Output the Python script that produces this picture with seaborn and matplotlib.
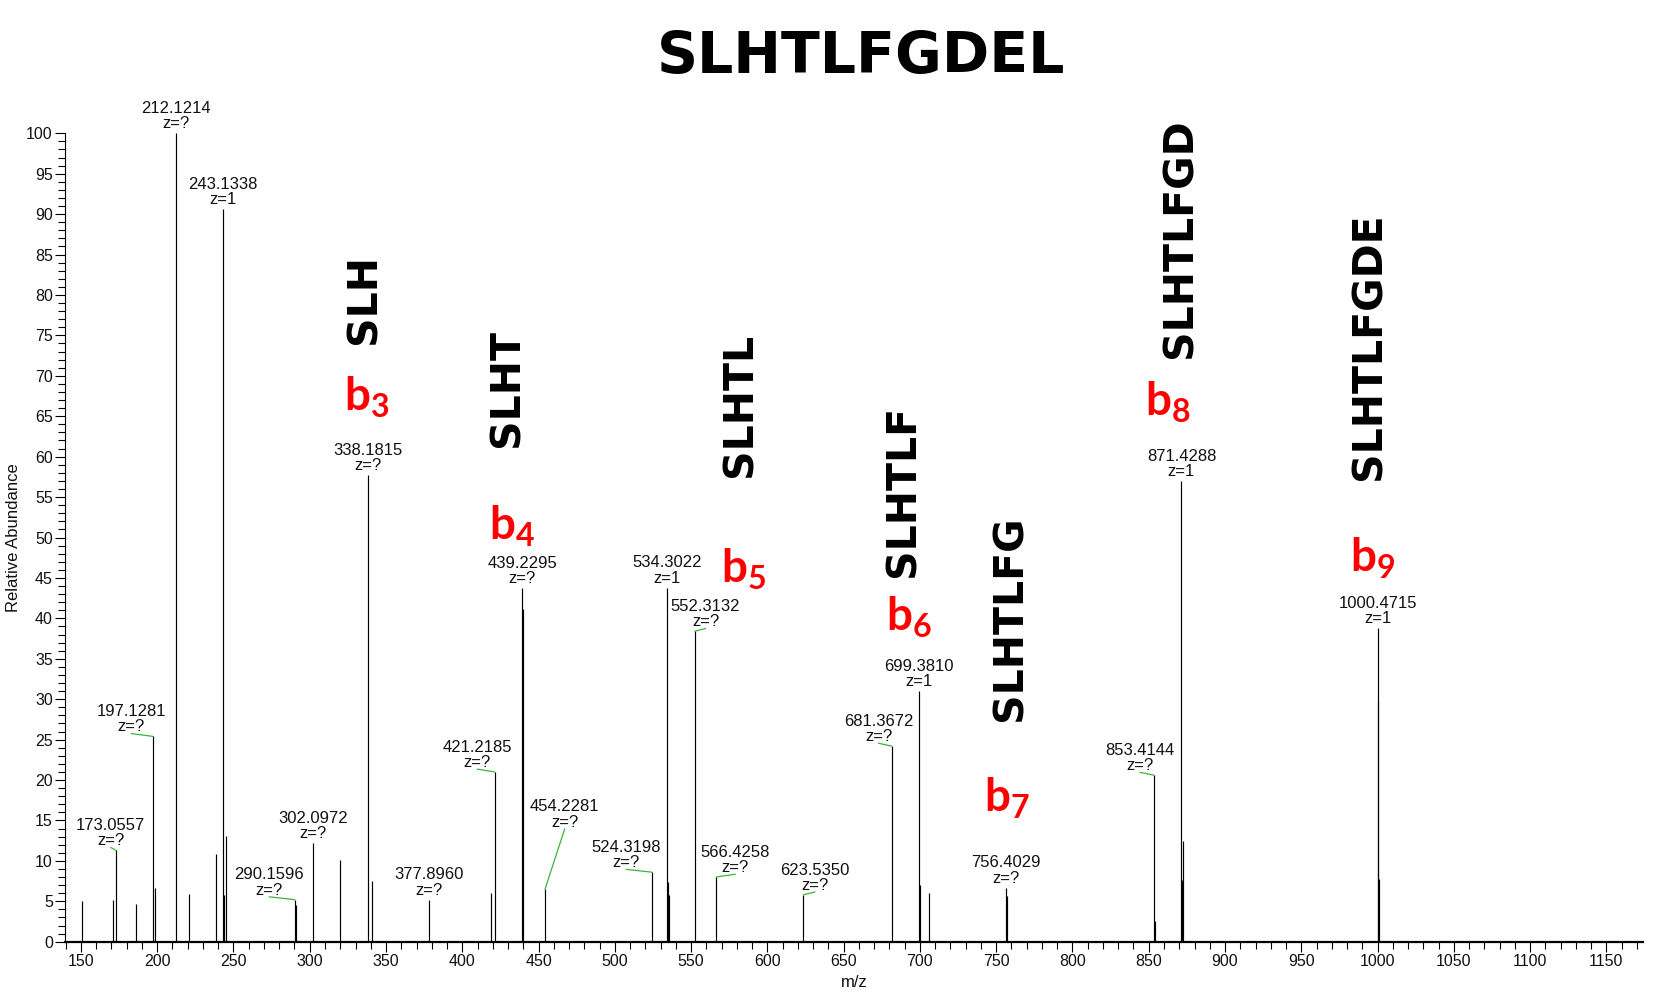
import matplotlib
matplotlib.use("Agg")
import matplotlib.pyplot as plt
from matplotlib.ticker import MultipleLocator
import pandas as pd
import seaborn as sns

sns.set_theme(style="ticks")
plt.rcParams["font.family"] = ["Liberation Sans", "DejaVu Sans"]
plt.rcParams["mathtext.fontset"] = "custom"
plt.rcParams["mathtext.rm"] = "Lato"
plt.rcParams["mathtext.bf"] = "Lato:bold"

# every stick of the MS/MS spectrum (m/z, relative abundance)
peak_mz = [151.0, 171.2, 173.0557, 186.1, 197.1281, 198.7, 212.1214, 220.6,
           238.7, 243.1338, 244.1, 245.1, 290.1596, 291.2, 302.0972, 320.0,
           338.1815, 341.0, 377.8960, 419.0, 421.2185, 439.2295, 439.7,
           454.2281, 524.3198, 534.3022, 534.9, 535.3, 552.3132, 566.4258,
           623.5350, 681.3672, 699.3810, 700.0, 706.1, 756.4029, 756.9,
           853.4144, 854.2, 871.4288, 872.0, 872.4, 1000.1, 1000.4715, 1001.0]
peak_int = [5.0, 5.2, 11.3, 4.7, 25.4, 6.6, 100.0, 5.9,
            10.9, 90.6, 5.8, 13.1, 5.2, 4.5, 12.2, 10.1,
            57.7, 7.5, 5.2, 6.0, 21.0, 43.7, 41.1,
            6.5, 8.6, 43.8, 7.4, 5.8, 38.4, 8.0,
            5.8, 24.2, 31.0, 7.0, 6.0, 6.7, 5.6,
            20.6, 2.5, 57.0, 7.6, 12.5, 29.6, 38.8, 7.7]

# annotated peaks
label_mz = [173.0557, 197.1281, 212.1214, 243.1338, 290.1596, 302.0972,
            338.1815, 377.8960, 421.2185, 439.2295, 454.2281, 524.3198,
            534.3022, 552.3132, 566.4258, 623.5350, 681.3672, 699.3810,
            756.4029, 853.4144, 871.4288, 1000.4715]
label_int = [11.3, 25.4, 100.0, 90.6, 5.2, 12.2,
             57.7, 5.2, 21.0, 43.7, 6.5, 8.6,
             43.8, 38.4, 8.0, 5.8, 24.2, 31.0,
             6.7, 20.6, 57.0, 38.8]
label_z = ["?", "?", "?", "1", "?", "?",
           "?", "?", "?", "?", "?", "?",
           "1", "?", "?", "?", "?", "1",
           "?", "?", "1", "1"]
# where a label was pushed aside (m/z shift, abundance lift)
label_dx = [-3.5, -14.2, 0, 0, -16.8, 0,
            0, 0, -11.5, 0, 12.9, -17.0,
            0, 7.2, 12.5, 7.7, -8.5, 0,
            0, -9.2, 0, 0]
label_lift = [0, 0, 0, 0, 0, 0,
              0, 0, 0, 0, 7.1, 0,
              0, 0, 0, 0, 0, 0,
              0, 0, 0, 0]

# b-ion ladder
frag_seq = ["SLH", "SLHT", "SLHTL", "SLHTLF", "SLHTLFG", "SLHTLFGD", "SLHTLFGDE"]
frag_n = [3, 4, 5, 6, 7, 8, 9]
frag_seq_x = [335.9, 429.6, 582.4, 689.3, 759.1, 870.5, 994.4]
frag_seq_y = [79.5, 68.5, 66.4, 55.8, 40.0, 87.0, 73.7]
frag_b_x = [337.2, 432.6, 584.7, 692.8, 757.1, 862.6, 997.0]
frag_b_y = [65.7, 49.7, 44.4, 38.5, 16.1, 65.0, 45.8]

spectrum = pd.DataFrame({"mz": peak_mz, "intensity": peak_int})

fig = plt.figure(figsize=(16.64, 10.01), dpi=100)
ax = fig.add_axes([0.03924, 0.05924, 0.94814, 0.80759])

ax.vlines(spectrum["mz"], 0, spectrum["intensity"], color="black", lw=0.85)

ax.set_xlim(139.75, 1174)
ax.set_ylim(0, 100)
ax.xaxis.set_major_locator(MultipleLocator(50))
ax.xaxis.set_minor_locator(MultipleLocator(10))
ax.yaxis.set_major_locator(MultipleLocator(5))
ax.yaxis.set_minor_locator(MultipleLocator(1))
ax.tick_params(axis="both", which="major", length=7, width=0.8, labelsize=11.5,
               color="black", labelcolor="#111111", pad=2)
ax.tick_params(axis="both", which="minor", length=5, width=0.8, color="black")
sns.despine(ax=ax)
ax.spines["bottom"].set_linewidth(1.6)
ax.spines["left"].set_linewidth(0.8)
ax.spines["bottom"].set_color("black")
ax.spines["left"].set_color("black")
ax.grid(False)

ax.set_xlabel("m/z", fontsize=12, color="#111111")
ax.set_ylabel("Relative Abundance", fontsize=12, color="#111111")
ax.xaxis.set_label_coords(0.5, -0.041)
ax.yaxis.set_label_coords(-0.028, 0.5)

# peak labels with green leader lines where shifted
for mz, h, z, dx, lift in zip(label_mz, label_int, label_z, label_dx, label_lift):
    tx = mz + dx
    ty = h + lift + 0.25
    ax.text(tx, ty, f"{mz:.4f}\nz={z}", ha="center", va="bottom", fontsize=12,
            linespacing=1.02, color="#111111", clip_on=False)
    if dx != 0 or lift != 0:
        ax.plot([tx, mz], [h + lift + 0.35, h], color="#3cb33c", lw=0.9,
                clip_on=False)

# fragment sequences and b-ion names
for seq, n, sx, sy, bx, by in zip(frag_seq, frag_n, frag_seq_x, frag_seq_y,
                                  frag_b_x, frag_b_y):
    ax.text(sx, sy, seq, rotation=90, ha="center", va="center", fontsize=29.5,
            fontweight="bold", family="DejaVu Sans", color="black")
    ax.text(bx, by, rf"$\mathbf{{b_{n}}}$", ha="center", va="baseline",
            fontsize=33, color="#ff0000")

fig.text(861.5 / 1664, 1 - 58 / 1001, "SLHTLFGDEL", ha="center", va="center",
         fontsize=41, fontweight="bold", family="DejaVu Sans", color="black")

fig.savefig("out.png", dpi=100)
